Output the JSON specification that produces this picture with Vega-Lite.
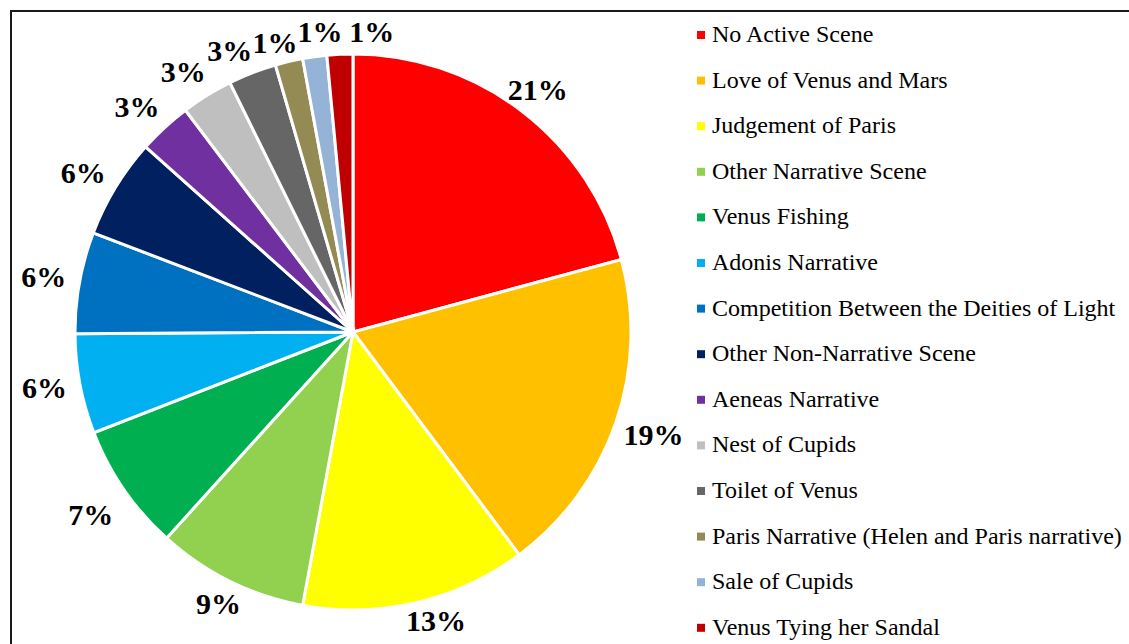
{
  "$schema": "https://vega.github.io/schema/vega-lite/v6.json",
  "width": 1125,
  "height": 640,
  "autosize": {"type": "none"},
  "padding": {"left": 11, "top": 11, "right": 0, "bottom": 0},
  "background": "white",
  "view": {"stroke": "#1a1a1a", "strokeWidth": 2},
  "data": {
    "values": [
      {"idx": 1, "scene": "No Active Scene", "share": 20.8, "label": "21%"},
      {"idx": 2, "scene": "Love of Venus and Mars", "share": 19.0, "label": "19%"},
      {"idx": 3, "scene": "Judgement of Paris", "share": 13.1, "label": "13%"},
      {"idx": 4, "scene": "Other Narrative Scene", "share": 8.8, "label": "9%"},
      {"idx": 5, "scene": "Venus Fishing", "share": 7.4, "label": "7%"},
      {"idx": 6, "scene": "Adonis Narrative", "share": 5.8, "label": "6%"},
      {"idx": 7, "scene": "Competition Between the Deities of Light", "share": 5.9, "label": "6%"},
      {"idx": 8, "scene": "Other Non-Narrative Scene", "share": 5.8, "label": "6%"},
      {"idx": 9, "scene": "Aeneas Narrative", "share": 3.1, "label": "3%"},
      {"idx": 10, "scene": "Nest of Cupids", "share": 3.0, "label": "3%"},
      {"idx": 11, "scene": "Toilet of Venus", "share": 2.8, "label": "3%"},
      {"idx": 12, "scene": "Paris Narrative (Helen and Paris narrative)", "share": 1.6, "label": "1%"},
      {"idx": 13, "scene": "Sale of Cupids", "share": 1.4, "label": "1%"},
      {"idx": 14, "scene": "Venus Tying her Sandal", "share": 1.5, "label": "1%"}
    ]
  },
  "encoding": {
    "theta": {"field": "share", "type": "quantitative", "stack": true},
    "order": {"field": "idx", "type": "quantitative"}
  },
  "layer": [
    {
      "mark": {"type": "arc", "x": 342, "y": 321, "outerRadius": 278, "stroke": "white", "strokeWidth": 3},
      "encoding": {
        "color": {
          "field": "scene",
          "type": "nominal",
          "sort": null,
          "scale": {
            "domain": ["No Active Scene", "Love of Venus and Mars", "Judgement of Paris", "Other Narrative Scene", "Venus Fishing", "Adonis Narrative", "Competition Between the Deities of Light", "Other Non-Narrative Scene", "Aeneas Narrative", "Nest of Cupids", "Toilet of Venus", "Paris Narrative (Helen and Paris narrative)", "Sale of Cupids", "Venus Tying her Sandal"],
            "range": ["#FF0000", "#FFC000", "#FFFF00", "#92D050", "#00B050", "#00B0F0", "#0070C0", "#002060", "#7030A0", "#BFBFBF", "#666666", "#948A54", "#95B3D7", "#C00000"]
          },
          "legend": {
            "title": null,
            "orient": "none",
            "legendX": 678,
            "legendY": 12,
            "padding": 0,
            "symbolType": "square",
            "symbolSize": 64,
            "symbolStrokeWidth": 0,
            "labelFont": "Liberation Serif",
            "labelFontSize": 24,
            "labelColor": "#000000",
            "labelOffset": -1,
            "labelLimit": 500,
            "rowPadding": 21.6
          }
        }
      }
    },
    {
      "mark": {"type": "text", "x": 342, "y": 321, "radius": 304, "font": "Liberation Serif", "fontWeight": "bold", "fontSize": 30, "color": "#000000", "align": "center", "baseline": "middle"},
      "encoding": {"text": {"condition": {"test": "datum.idx == 1 || datum.idx == 4", "field": "label"}, "value": ""}}
    },
    {
      "mark": {"type": "text", "x": 342, "y": 321, "radius": 318, "font": "Liberation Serif", "fontWeight": "bold", "fontSize": 30, "color": "#000000", "align": "center", "baseline": "middle"},
      "encoding": {"text": {"condition": {"test": "datum.idx == 2", "field": "label"}, "value": ""}}
    },
    {
      "mark": {"type": "text", "x": 342, "y": 321, "radius": 304, "dx": 14, "dy": -6, "font": "Liberation Serif", "fontWeight": "bold", "fontSize": 30, "color": "#000000", "align": "center", "baseline": "middle"},
      "encoding": {"text": {"condition": {"test": "datum.idx == 3", "field": "label"}, "value": ""}}
    },
    {
      "mark": {"type": "text", "x": 342, "y": 321, "radius": 304, "dx": -12, "dy": 12, "font": "Liberation Serif", "fontWeight": "bold", "fontSize": 30, "color": "#000000", "align": "center", "baseline": "middle"},
      "encoding": {"text": {"condition": {"test": "datum.idx == 5", "field": "label"}, "value": ""}}
    },
    {
      "mark": {"type": "text", "x": 342, "y": 321, "radius": 304, "dx": -10, "font": "Liberation Serif", "fontWeight": "bold", "fontSize": 30, "color": "#000000", "align": "center", "baseline": "middle"},
      "encoding": {"text": {"condition": {"test": "datum.idx >= 6 && datum.idx <= 10", "field": "label"}, "value": ""}}
    },
    {
      "mark": {"type": "text", "x": 342, "y": 321, "radius": 304, "dx": -13, "dy": 3, "font": "Liberation Serif", "fontWeight": "bold", "fontSize": 30, "color": "#000000", "align": "center", "baseline": "middle"},
      "encoding": {"text": {"condition": {"test": "datum.idx == 11", "field": "label"}, "value": ""}}
    },
    {
      "mark": {"type": "text", "x": 342, "y": 321, "radius": 304, "dx": -8, "dy": 8, "font": "Liberation Serif", "fontWeight": "bold", "fontSize": 30, "color": "#000000", "align": "center", "baseline": "middle"},
      "encoding": {"text": {"condition": {"test": "datum.idx == 12", "field": "label"}, "value": ""}}
    },
    {
      "mark": {"type": "text", "x": 342, "y": 321, "radius": 304, "dx": 9, "dy": 2, "font": "Liberation Serif", "fontWeight": "bold", "fontSize": 30, "color": "#000000", "align": "center", "baseline": "middle"},
      "encoding": {"text": {"condition": {"test": "datum.idx == 13", "field": "label"}, "value": ""}}
    },
    {
      "mark": {"type": "text", "x": 342, "y": 321, "radius": 304, "dx": 33, "dy": 5, "font": "Liberation Serif", "fontWeight": "bold", "fontSize": 30, "color": "#000000", "align": "center", "baseline": "middle"},
      "encoding": {"text": {"condition": {"test": "datum.idx == 14", "field": "label"}, "value": ""}}
    }
  ]
}
